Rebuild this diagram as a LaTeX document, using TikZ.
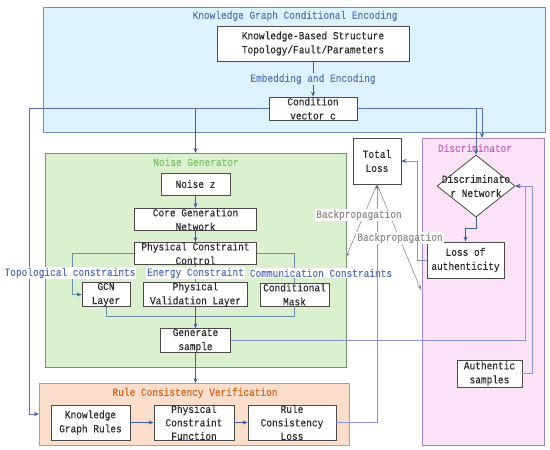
\documentclass[tikz,border=0pt]{standalone}
\usepackage{fontspec}
\setmainfont{Liberation Mono}[FakeStretch=0.87, FakeBold=0.12]
\usetikzlibrary{shapes.geometric,arrows.meta}
\definecolor{bluefill}{HTML}{DDF2FC}
\definecolor{blueedge}{HTML}{6F8DB8}
\definecolor{bluetext}{HTML}{5A78B0}
\definecolor{greenfill}{HTML}{DBF0CE}
\definecolor{greenedge}{HTML}{6E9A66}
\definecolor{greentext}{HTML}{7CC46A}
\definecolor{pinkfill}{HTML}{FCE2F6}
\definecolor{pinkedge}{HTML}{A184CC}
\definecolor{pinktext}{HTML}{C465B4}
\definecolor{orangefill}{HTML}{FADDCA}
\definecolor{orangeedge}{HTML}{D49468}
\definecolor{orangetext}{HTML}{D2661C}
\definecolor{arrowc}{HTML}{3E5C9C}
\definecolor{linec}{HTML}{5B6FAA}
\definecolor{lavc}{HTML}{8E93D8}
\definecolor{brack}{HTML}{6D90A6}
\definecolor{grayc}{HTML}{8E8E8E}
\definecolor{labc}{HTML}{5570B5}
\definecolor{boxedge}{HTML}{4A4A4A}
\definecolor{txt}{HTML}{2A2A2A}
\begin{document}
\begin{tikzpicture}[x=1pt,y=-1pt,
  font=\fontsize{10.9}{14}\selectfont,
  box/.style={draw=boxedge, fill=white, text=txt, align=center, inner sep=0pt, line width=0.8pt},
  container/.style={draw=#1edge, fill=#1fill, line width=0.8pt, inner sep=0pt, anchor=north west},
  tip/.style={-{Stealth[length=5pt,width=4pt,color=arrowc]}},
  arr/.style={draw=arrowc, line width=0.7pt, tip},
  lnc/.style={draw=linec, line width=0.7pt},
  lav/.style={draw=lavc, line width=0.7pt},
  brk/.style={draw=brack, line width=0.7pt},
  bp/.style={draw=grayc, line width=0.6pt, -{Stealth[length=5pt,width=4pt,color=grayc]}},
  lab/.style={fill=white, text=labc, inner sep=1pt},
  bpl/.style={fill=white, text=grayc, inner sep=1pt}
]
\useasboundingbox (0,0) rectangle (550,450);
% containers
\node[container=blue, minimum width=502pt, minimum height=125pt] (kgce) at (43,7) {};
\node[container=green, minimum width=301pt, minimum height=214pt] (ng) at (45,153) {};
\node[container=orange, minimum width=310pt, minimum height=62pt] (rcv) at (39,383) {};
\node[container=pink, minimum width=122pt, minimum height=307pt] (pink) at (422,138) {};
% titles
\node[text=bluetext] (t1) at (295,16) {Knowledge Graph Conditional Encoding};
\node[text=greentext] (t2) at (196,162) {Noise Generator};
\node[text=orangetext] (t3) at (195,393) {Rule Consistency Verification};
\node[text=pinktext] (t4) at (475,148) {Discriminator};
% nodes
\node[box, minimum width=192pt, minimum height=35pt] (kbs) at (313,43.5) {Knowledge-Based Structure\\Topology/Fault/Parameters};
\node[box, minimum width=88pt, minimum height=23pt] (cond) at (313,108.5) {Condition\\vector c};
\node[box, minimum width=69pt, minimum height=22pt] (noise) at (195.5,184) {Noise z};
\node[box, minimum width=122pt, minimum height=21pt] (core) at (195.5,219.5) {Core Generation\\Network};
\node[box, minimum width=122pt, minimum height=21pt] (pcc) at (195.5,253.5) {Physical Constraint\\Control};
\node[box, minimum width=48pt, minimum height=23pt] (gcn) at (106,294.5) {GCN\\Layer};
\node[box, minimum width=104pt, minimum height=23pt] (pvl) at (195.5,294.5) {Physical\\Validation Layer};
\node[box, minimum width=69pt, minimum height=23pt] (mask) at (294.5,294.5) {Conditional\\Mask};
\node[box, minimum width=70pt, minimum height=23pt] (gen) at (195.5,340.5) {Generate\\sample};
\node[box, minimum width=79pt, minimum height=35pt] (kgr) at (90.5,422.5) {Knowledge\\Graph Rules};
\node[box, minimum width=80pt, minimum height=35pt, font=\fontsize{10.9}{13.5}\selectfont] (pcf) at (194,422.5) {Physical\\Constraint\\Function};
\node[box, minimum width=88pt, minimum height=35pt, font=\fontsize{10.9}{13.5}\selectfont] (rcl) at (292,422.5) {Rule\\Consistency\\Loss};
\node[box, minimum width=48pt, minimum height=46pt] (total) at (377,161) {Total\\Loss};
\node[diamond, draw=boxedge, fill=white, line width=0.8pt, inner sep=0pt, minimum width=78pt, minimum height=62pt] (disc) at (476,186) {};
\node[text=txt, align=center] (disctxt) at (disc.center) {Discriminato\\r Network};
\node[box, minimum width=77pt, minimum height=36pt] (loa) at (465.5,260) {Loss of\\authenticity};
\node[box, minimum width=65pt, minimum height=27pt] (auth) at (489.5,373.5) {Authentic\\samples};
% connectors
\draw[arr] (kbs.south) -- (cond.north) node[midway, fill=bluefill, text=bluetext, inner sep=1pt] (emb) {Embedding and Encoding};
\coordinate (l1) at (29,108.5);
\coordinate (l2) at (29,414);
\draw[lnc, tip] (cond.west) -- (l1) -- (l2) -- (l2 -| rcv.west);
\coordinate (n1) at (195.5,108.5);
\draw[arr] (n1) -- (n1 |- ng.north);
\coordinate (d1) at (482,108.5);
\draw[lnc, tip] (cond.east) -- (cond.east -| disc.north) -- (disc.north);
\draw[lnc, tip] (cond.east) -- (d1) -- (d1 |- pink.north);
\draw[arr] (noise.south) -- (core.north);
\draw[arr] (core.south) -- (pcc.north);
\coordinate (g1) at (72,253.5);
\draw[brk, tip] (pcc.west) -- (g1) |- (gcn.west);
\draw[brk] (pcc.east) -| (mask.north);
\draw[brk] (pcc.south) -- (pvl.north);
\draw[brk] (gcn.south) -- ++(0,10) -| (mask.south);
\draw[arr] (pvl.south) -- (gen.north);
\draw[arr] (gen.south) -- (gen.south |- rcv.north);
\node[lab] (lt) at (70,273) {Topological constraints};
\node[lab] (le) at (195.5,273) {Energy Constraint};
\node[lab] (lc) at (321,273) {Communication Constraints};
\coordinate (r1) at (525,340.5);
\draw[lav, tip] (gen.east) -- (r1) |- (disc.east);
\coordinate (r2) at (532,373.5);
\draw[lav, tip] (auth.east) -- (r2) |- (disc.east);
\draw[arr] (kgr.east) -- (pcf.west);
\draw[arr] (pcf.east) -- (rcl.west);
\draw[lav, tip] (rcl.east) -| (total.south);
\coordinate (bp1) at (346,257);
\coordinate (bp2) at (421,290);
\draw[bp] (total.south) -- (bp1);
\draw[bp] (total.south) -- (bp2);
\node[bpl] (b1) at (359,215) {Backpropagation};
\node[bpl] (b2) at (400,238) {Backpropagation};
\coordinate (k1) at (417,260);
\draw[lav, tip] (loa.west) -- (k1) |- (total.east);
\draw[arr] (disc.south) -- ++(0,11) -| (loa.north);
\end{tikzpicture}
\end{document}
